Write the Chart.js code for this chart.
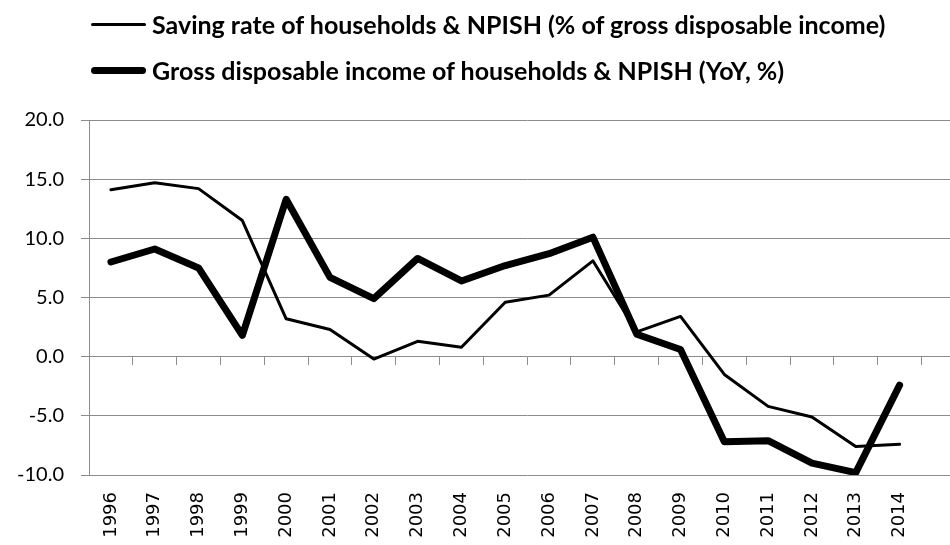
<!DOCTYPE html>
<html>
<head>
<meta charset="utf-8">
<script src="https://cdn.jsdelivr.net/npm/chart.js@4.4.1/dist/chart.umd.min.js"></script>
<style>
  html, body { margin: 0; padding: 0; background: #fff; width: 950px; height: 545px; overflow: hidden; }
  #wrap { position: relative; width: 982px; height: 545px; }
  #legend { position: absolute; left: 91px; top: 0; font-family: Lato, sans-serif; font-weight: bold; font-size: 25px; color: #000; }
  .leg-row { position: absolute; left: 0; height: 30px; display: flex; align-items: center; white-space: nowrap; }
  .leg-line { width: 55px; background: #000; border-radius: 4px; margin-right: 6px; }
</style>
</head>
<body>
<div id="wrap">
  <canvas id="chart" width="982" height="545"></canvas>
  <div id="legend"></div>
</div>
<script>
// Data
const years = ['1996', '1997', '1998', '1999', '2000', '2001', '2002', '2003', '2004', '2005',
  '2006', '2007', '2008', '2009', '2010', '2011', '2012', '2013', '2014'];
const savingRate = [14.1, 14.7, 14.2, 11.5, 3.2, 2.3, -0.2, 1.3, 0.8, 4.6,
  5.2, 8.1, 2.1, 3.4, -1.5, -4.2, -5.1, -7.6, -7.4];
const incomeGrowth = [8.0, 9.1, 7.5, 1.8, 13.3, 6.7, 4.9, 8.3, 6.4, 7.7,
  8.7, 10.1, 1.9, 0.6, -7.2, -7.1, -9.0, -9.8, -2.4];
const seriesNames = [
  'Saving rate of households & NPISH (% of gross disposable income)',
  'Gross disposable income of households & NPISH (YoY, %)'
];
const yMin = -10, yMax = 20, yStep = 5;

const gridColor = '#8c8c8c';
// one empty slot at the end so the plot runs on past the right edge like the original
const labels = years.concat(['']);

const chart = new Chart(document.getElementById('chart'), {
  type: 'line',
  data: {
    labels: labels,
    datasets: [
      {
        label: seriesNames[0],
        data: savingRate,
        borderColor: '#000',
        borderWidth: 3,
        pointRadius: 0,
        tension: 0,
        borderJoinStyle: 'round',
        borderCapStyle: 'round'
      },
      {
        label: seriesNames[1],
        data: incomeGrowth,
        borderColor: '#000',
        borderWidth: 7,
        pointRadius: 0,
        tension: 0,
        borderJoinStyle: 'round',
        borderCapStyle: 'round'
      }
    ]
  },
  options: {
    responsive: false,
    animation: false,
    layout: { padding: { top: 120, right: 0, bottom: 0, left: 0 } },
    plugins: {
      legend: { display: false },
      tooltip: { enabled: false }
    },
    scales: {
      x: {
        position: 'bottom',
        offset: true,
        grid: { display: false, drawTicks: false },
        border: { display: false },
        ticks: {
          autoSkip: false,
          maxRotation: 90,
          minRotation: 90,
          padding: 17,
          color: '#000',
          font: { family: 'DejaVu Sans', size: 18 }
        },
        afterFit: s => { s.height = 70; }
      },
      // tick marks sitting on the zero line
      x0: {
        type: 'category',
        labels: labels,
        position: { y: 0 },
        offset: true,
        grid: { offset: true, drawOnChartArea: false, drawTicks: true, tickLength: 8, color: gridColor },
        border: { display: false },
        ticks: { display: false }
      },
      y: {
        min: yMin,
        max: yMax,
        ticks: {
          stepSize: yStep,
          padding: 17,
          color: '#000',
          font: { family: 'Lato', size: 20 },
          callback: v => v.toFixed(1)
        },
        grid: { color: gridColor, tickLength: 8, lineWidth: 1 },
        border: { color: gridColor, width: 1 },
        afterFit: s => { s.width = 89; }
      }
    }
  }
});

// Legend built from the datasets
const legendEl = document.getElementById('legend');
const rowCentres = [24, 70];
chart.data.datasets.forEach((ds, i) => {
  const row = document.createElement('div');
  row.className = 'leg-row';
  row.style.top = (rowCentres[i] - 15) + 'px';
  const line = document.createElement('span');
  line.className = 'leg-line';
  line.style.height = ds.borderWidth + 'px';
  const txt = document.createElement('span');
  txt.textContent = ds.label;
  row.appendChild(line);
  row.appendChild(txt);
  legendEl.appendChild(row);
});
</script>
</body>
</html>
